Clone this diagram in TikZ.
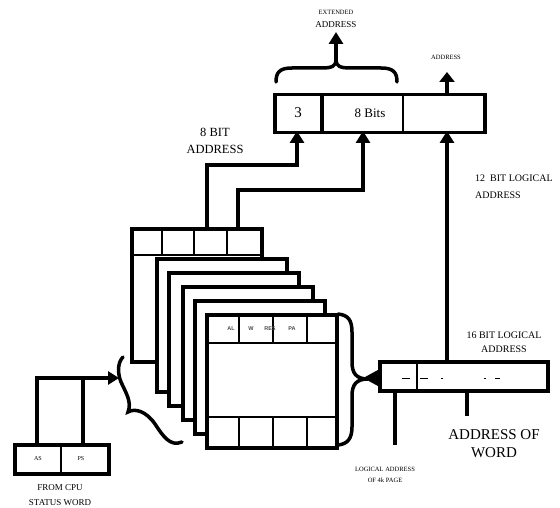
\documentclass[tikz,border=0pt]{standalone}
\usepackage{fontspec}
\setmainfont{Liberation Serif}
\newfontfamily\cellfont{Liberation Sans}
\usetikzlibrary{arrows.meta}
\begin{document}
\begin{tikzpicture}[x=1pt,y=-1pt,
  heavy/.style={line width=3.5pt},
  midline/.style={line width=2pt},
  thinline/.style={line width=1.4pt},
  bigarrow/.style={heavy,-{Triangle[width=14pt,length=12pt]}},
  page/.style={draw,heavy,fill=white,minimum width=130pt,minimum height=133pt,anchor=north west,inner sep=0pt},
  reg/.style={draw,heavy,fill=white,anchor=north west,inner sep=0pt},
  lbl/.style={inner sep=0pt,align=center},
  celllbl/.style={inner sep=0pt,font=\cellfont\fontsize{5.5}{6}\selectfont\bfseries,text=black!70},
]
\useasboundingbox (0,0) rectangle (560,508);

% ---------- top register ----------
\node[reg,minimum width=210pt,minimum height=38pt] (topreg) at (273,93) {};
\draw[heavy] (322,93) -- (322,131);
\draw[thinline] (403,93) -- (403,131);
\node[lbl,font=\fontsize{15}{17}\selectfont] (three) at (298,113) {3};
\node[lbl,font=\fontsize{13}{15}\selectfont] (eightbits) at (370,113) {8 Bits};

% brace over top register
\draw[heavy,line cap=round] (276,82) .. controls (276,72) and (280,68) .. (292,68) -- (322,68)
  .. controls (332,68) and (336,66) .. (336,60)
  .. controls (336,66) and (340,68) .. (350,68) -- (381,68)
  .. controls (393,68) and (397,72) .. (397,82);
\coordinate (bracetop) at (336,61);
\coordinate (extip) at (336,32);
\draw[bigarrow] (bracetop) -- (extip);
\node[lbl] (extlbl) at (336,19) {{\fontsize{6.5}{8}\selectfont EXTENDED}\\[1pt]{\fontsize{9}{11}\selectfont ADDRESS}};

% address arrow out of top register
\coordinate (topout) at (447,93);
\coordinate (topouttip) at (447,72);
\draw[heavy,-{Triangle[width=15pt,length=10pt]}] (topout) -- (topouttip);
\node[lbl,font=\fontsize{6.5}{8}\selectfont] (addrsmall) at (446,57) {ADDRESS};

% ---------- page stack ----------
\node[page] (p1) at (130,227) {};
\draw[thinline] (130,255) -- (260,255);
\foreach \x in {162,194,227} \draw[thinline] (\x,227) -- (\x,255);
\node[page] (p2) at (155,257) {};
\node[page] (p3) at (167,271) {};
\node[page] (p4) at (181,285) {};
\node[page] (p5) at (193,299) {};
\node[page] (p6) at (205,313) {};
\draw[midline] (205,343) -- (337,343);
\draw[midline] (205,417) -- (337,417);
\foreach \x in {239,273,307} {
  \draw[midline] (\x,313) -- (\x,343);
  \draw[midline] (\x,417) -- (\x,446);
}
\node[celllbl] (al) at (231,329) {AL};
\node[celllbl] (w) at (251,329) {W};
\node[celllbl] (res) at (270,329) {RES};
\node[celllbl] (pa) at (292,329) {PA};

% ---------- 8 bit address connectors ----------
\coordinate (p1a) at (207,227);
\coordinate (k1) at (207,165);
\coordinate (t3) at (297,131);
\draw[bigarrow] (p1a) -- (k1) -| (t3);
\coordinate (p1b) at (238,227);
\coordinate (k2) at (238,190);
\coordinate (t8) at (363,131);
\draw[bigarrow] (p1b) -- (k2) -| (t8);
\node[lbl,font=\fontsize{12.5}{17}\selectfont] (eightbit) at (215,141) {8 BIT\\ADDRESS};

% ---------- brace right of pages ----------
\draw[heavy,line cap=round] (338,314) .. controls (348,315) and (352,320) .. (352,332) -- (352,362)
  .. controls (352,373) and (356,379) .. (368,379)
  .. controls (356,379) and (352,385) .. (352,396) -- (352,427)
  .. controls (352,438) and (348,444) .. (338,445);

% ---------- 16 bit register ----------
\node[reg,minimum width=168pt,minimum height=29pt] (r16) at (378,360) {};
\draw[midline] (417,360) -- (417,389);
\draw[line width=1pt] (402,378) -- (410,378) (420,378) -- (428,378) (441,378) -- (443,378)
  (484,378) -- (486,378) (495,378) -- (500,378);
\coordinate (r16left) at (379,378);
\coordinate (r16lefttip) at (363,378);
\draw[heavy,-{Triangle[width=15pt,length=15pt]}] (r16left) -- (r16lefttip);
\coordinate (r16up) at (447,360);
\coordinate (t12) at (447,131);
\draw[bigarrow] (r16up) -- (t12);
\coordinate (r16d1) at (395,389);
\coordinate (r16d1e) at (395,445);
\draw[heavy] (r16d1) -- (r16d1e);
\coordinate (r16d2) at (467,389);
\coordinate (r16d2e) at (467,416);
\draw[heavy] (r16d2) -- (r16d2e);

\node[lbl,anchor=west,align=left,font=\fontsize{10}{16.5}\selectfont] (twelve) at (475,186.5) {12\ \ BIT LOGICAL\\ADDRESS};
\node[lbl,font=\fontsize{10}{14}\selectfont] (sixteen) at (504,342) {16 BIT LOGICAL\\ADDRESS};
\node[lbl,font=\fontsize{15}{18}\selectfont] (addrword) at (494,444) {ADDRESS OF\\WORD};
\node[lbl,font=\fontsize{6.5}{11}\selectfont] (logpage) at (385,474.5) {LOGICAL ADDRESS\\OF 4k PAGE};

% ---------- CPU status word ----------
\node[reg,minimum width=94pt,minimum height=29pt] (cpu) at (13,443) {};
\draw[midline] (61,443) -- (61,472);
\node[lbl,font=\fontsize{6}{7}\selectfont] (as) at (38,459) {AS};
\node[lbl,font=\fontsize{6}{7}\selectfont] (ps) at (81,459) {PS};
\coordinate (as1) at (37,443);
\coordinate (as1t) at (37,378);
\coordinate (lbtip) at (119,378);
\draw[heavy,-{Triangle[width=13pt,length=11pt]}] (as1) -- (as1t) -- (lbtip);
\coordinate (ps1) at (83,443);
\coordinate (ps1t) at (83,378);
\draw[heavy] (ps1) -- (ps1t);
\node[lbl,font=\fontsize{9}{15}\selectfont] (fromcpu) at (60,495.5) {FROM CPU\\STATUS WORD};

% ---------- left brace ----------
\draw[heavy,line cap=round] (123,357) .. controls (118,362) and (117,372) .. (121,382)
  .. controls (126,393) and (132,402) .. (128,412)
  .. controls (135,408) and (146,411) .. (155,424)
  .. controls (163,436) and (170,447) .. (182,442);
\end{tikzpicture}
\end{document}
